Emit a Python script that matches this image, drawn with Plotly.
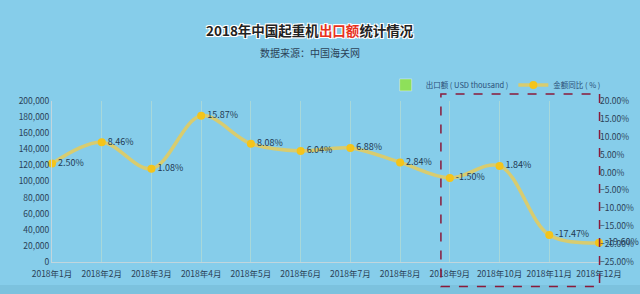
import plotly.graph_objects as go

months = ["2018年1月", "2018年2月", "2018年3月", "2018年4月", "2018年5月", "2018年6月",
          "2018年7月", "2018年8月", "2018年9月", "2018年10月", "2018年11月", "2018年12月"]
export_usd_thousand = [None] * 12  # bars not visible in the reference
yoy_pct = [2.50, 8.46, 1.08, 15.87, 8.08, 6.04, 6.88, 2.84, -1.50, 1.84, -17.47, -19.60]
yoy_labels = ["2.50%", "8.46%", "1.08%", "15.87%", "8.08%", "6.04%", "6.88%", "2.84%",
              "-1.50%", "1.84%", "-17.47%", "-19.60%"]

FONT = "Noto Sans CJK SC"
TICK = "#2b4257"
BG = "#86cdea"

fig = go.Figure()
fig.add_trace(go.Bar(x=months, y=export_usd_thousand, name="出口额 ( USD thousand )",
                     marker_color="#8ee05a", yaxis="y"))
fig.add_trace(go.Scatter(
    x=months, y=yoy_pct, name="金额同比 ( % )", yaxis="y2",
    mode="lines+markers+text",
    line=dict(color="rgba(236,204,80,0.8)", width=3.5, shape="spline", smoothing=1.0),
    marker=dict(color="#f4c41a", size=8),
    text=yoy_labels, textposition="middle right",
    textfont=dict(size=9, color="#1f3a52", family=FONT), cliponaxis=False))

title_text = "2018年中国起重机<span style='color:#e8321e'>出口额</span>统计情况"
tx = (310 - 52) / 547
halo = "-1px -1px 0 #fff, 1px -1px 0 #fff, -1px 1px 0 #fff, 1px 1px 0 #fff, 0 0 2px #fff"
annotations = [
    dict(x=tx, y=1 + (101 - 18) / 161, xref="paper", yref="paper",
         text="<b>" + title_text + "</b>", showarrow=False,
         font=dict(size=13.5, color="#222222", family=FONT, shadow=halo)),
    dict(x=tx, y=1 + (101 - 43) / 161, xref="paper", yref="paper",
         text="数据来源：中国海关网", showarrow=False,
         font=dict(size=10, color="#2b4257", family=FONT)),
]

fig.update_layout(
    width=640, height=294,
    margin=dict(l=52, r=41, t=101, b=32, autoexpand=False),
    paper_bgcolor=BG, plot_bgcolor=BG,
    showlegend=True,
    legend=dict(orientation="h", x=0.61, y=1.10, xanchor="left", yanchor="middle",
                font=dict(size=7.5, color="#2a4f78", family=FONT), bgcolor="rgba(0,0,0,0)",
                itemwidth=30, tracegroupgap=0),
    xaxis=dict(type="category", range=[0, 11], showgrid=True, gridcolor="rgba(210,230,200,0.45)",
               showline=True, linecolor="rgba(200,215,220,0.9)", ticks="", ticklabelstandoff=4,
               tickfont=dict(size=8.5, color=TICK, family=FONT)),
    yaxis=dict(range=[0, 200000], dtick=20000, tickformat=",", showgrid=False, zeroline=False,
               showline=True, linecolor="rgba(200,215,220,0.9)",
               tickfont=dict(size=8.5, color=TICK, family=FONT)),
    yaxis2=dict(range=[-25, 20], dtick=5, tickformat=".2f", ticksuffix="%", overlaying="y",
                side="right", showgrid=False, zeroline=False, showline=False,
                tickfont=dict(size=8.5, color=TICK, family=FONT)),
    shapes=[dict(type="rect", xref="paper", yref="paper", x0=0.711, x1=1.001, y0=-0.152, y1=1.043,
                 line=dict(color="#8b1a3a", width=1.5, dash="dash")),
            dict(type="rect", xref="paper", yref="paper", x0=-52 / 547, x1=1 + 41 / 547,
                 y0=-32 / 161, y1=-23 / 161, line=dict(width=0), fillcolor="#7cc2de", layer="below")],
    annotations=annotations,
)

fig.write_html("out.html")
